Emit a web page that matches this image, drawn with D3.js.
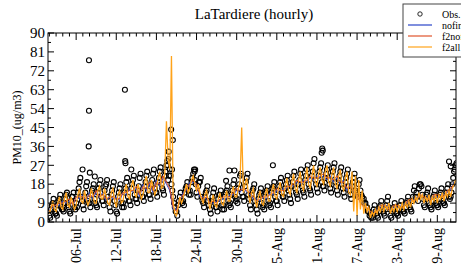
<!DOCTYPE html>
<html>
<head>
<meta charset="utf-8">
<script src="https://cdn.jsdelivr.net/npm/d3@7"></script>
<style>
  body { margin: 0; background: #fff; }
  svg { display: block; font-family: "Liberation Serif", "Times New Roman", serif; }
</style>
</head>
<body>
<svg id="chart" width="461" height="264"></svg>
<script>
// hourly station LaTardiere; obs kept every 3 h, split in two arrays
// obsPM10: 00, 06, 12, 18 UTC from 02-Jul ; obsPM10Late: 03, 09, 15, 21 UTC
let seriesStart = "2019-07-02T00:00Z";
let obsPM10 = [
  3,6,9,5, 4,8,11,7, 6,9,13,8, 5,10,12,7, 9,14,19,12,
  8,12,17,10, 9,13,16,11, 8,14,18,12, 10,15,18,12, 7,13,17,10,
  5,12,16,9, 9,14,19,12, 10,16,20,13, 11,15,21,14, 12,17,22,15,
  13,18,23,16, 14,19,24,18, 15,22,27,20, 25,18,12,7, 5,8,12,10,
  10,14,17,15, 15,19,23,20, 14,17,19,12, 9,12,15,10, 6,10,14,9,
  7,11,13,8, 8,12,15,10, 9,13,18,12, 11,16,22,14, 12,17,21,13,
  8,13,16,10, 6,11,14,9, 8,12,15,10, 9,14,17,12, 10,15,19,14,
  12,16,20,15, 11,17,22,16, 13,18,23,17, 14,20,25,18, 15,22,28,20,
  16,22,26,19, 17,21,25,20, 16,22,26,19, 15,20,24,18, 14,19,23,17,
  13,17,21,15, 14,18,15,12, 11,9,7,5, 4,3,6,5, 3,5,8,6,
  4,6,10,7, 3,5,7,5, 4,6,8,6, 5,7,10,8, 6,10,15,12,
  12,16,18,13, 8,11,14,9, 7,10,13,9, 8,11,14,10, 9,12,16,12,
  12,18,24,27
];
let obsPM10Late = [
  2,8,11,4, 3,10,13,6, 5,11,14,7, 4,12,14,6, 7,16,21,10,
  6,14,19,9, 7,15,18,9, 7,16,20,10, 8,17,20,10, 5,15,19,8,
  4,14,18,7, 7,16,21,10, 8,18,22,11, 9,17,23,12, 10,19,24,13,
  11,20,25,14, 12,21,26,16, 13,24,29,22, 22,15,9,5, 3,10,14,9,
  8,16,19,13, 13,21,25,18, 12,19,21,10, 7,14,17,8, 4,12,16,7,
  5,13,15,6, 6,14,17,8, 7,15,20,10, 9,18,23,12, 10,19,23,11,
  6,15,18,8, 4,13,16,7, 6,14,17,8, 7,16,19,10, 8,17,21,12,
  10,18,22,13, 9,19,24,14, 11,20,25,15, 12,22,27,16, 13,24,30,18,
  14,24,28,17, 15,23,27,18, 14,24,28,17, 13,22,26,16, 12,21,25,15,
  11,19,23,13, 12,20,13,10, 9,7,5,3, 2,2,8,4, 2,7,10,5,
  3,8,12,6, 2,6,9,4, 3,8,10,5, 4,9,12,7, 5,12,17,14,
  10,18,17,11, 7,13,16,8, 6,12,15,8, 7,13,16,9, 8,14,18,11,
  14,21,25,28
];
// single hours standing out from the band
let obsPeaks = [
  ["2019-07-07T22:00Z", 77], ["2019-07-07T22:00Z", 53], ["2019-07-07T21:00Z", 36],
  ["2019-07-06T23:00Z", 25], ["2019-07-08T01:00Z", 23.5], ["2019-07-08T19:00Z", 21.7],
  ["2019-07-13T07:00Z", 63], ["2019-07-13T08:00Z", 29], ["2019-07-13T09:00Z", 28], ["2019-07-14T06:00Z", 25],
  ["2019-07-20T05:00Z", 44], ["2019-07-20T11:00Z", 39], ["2019-07-19T20:00Z", 33.5],
  ["2019-07-19T19:00Z", 30], ["2019-07-19T17:00Z", 27], ["2019-07-20T08:00Z", 25],
  ["2019-07-23T17:00Z", 24], ["2019-07-23T19:00Z", 25],
  ["2019-07-28T22:00Z", 24.5], ["2019-07-29T16:00Z", 24.5], ["2019-07-28T10:00Z", 19.6],
  ["2019-08-04T10:00Z", 27],
  ["2019-08-11T17:00Z", 33], ["2019-08-11T19:00Z", 35], ["2019-08-11T21:00Z", 34],
  ["2019-08-30T18:00Z", 28.8], ["2019-08-31T00:00Z", 26.5]
];
// f2all run, every 6 h (00, 06, 12, 18 UTC)
let f2allPM10 = [
  4,7,10,6, 5,9,12,7, 6,11,14,8, 7,12,9,6, 8,13,16,10,
  9,15,11,8, 10,16,13,9, 9,15,17,11, 11,16,12,9, 8,14,16,10,
  7,13,15,9, 10,15,18,12, 11,17,20,13, 12,18,15,11, 13,19,22,14,
  14,20,17,13, 15,21,24,16, 17,23,48,30, 25,79,10,4, 3,7,12,9,
  11,15,18,14, 16,20,22,18, 15,18,14,11, 9,13,15,10, 6,10,13,8,
  7,11,14,9, 8,12,15,10, 10,14,17,12, 12,16,19,45, 14,18,21,13,
  9,14,16,10, 7,12,15,9, 8,13,16,10, 10,15,18,12, 11,16,19,13,
  12,17,21,15, 13,19,23,16, 14,20,24,17, 15,21,26,18, 16,22,27,19,
  17,23,26,20, 18,24,27,19, 17,23,26,18, 16,22,25,17, 15,21,24,14,
  13,24,5,22, 3,20,6,15, 4,9,5,7, 2,5,3,6, 4,7,5,8,
  5,8,6,9, 4,7,5,8, 5,8,6,9, 6,9,7,10, 7,11,9,12,
  10,14,11,13, 9,12,10,13, 8,12,10,13, 9,13,11,14, 10,14,12,15,
  12,16,18,20
];
// the two no-fire runs, every 12 h (00, 12 UTC)
let nofirePM10 = [
  6,7, 8,8, 10,9, 10,8, 12,11, 13,10, 14,11, 14,12, 14,10, 12,11,
  12,10, 14,13, 16,14, 16,12, 18,15, 18,14, 20,17, 21,18, 15,6, 6,10,
  14,15, 19,19, 17,12, 12,11, 9,9, 10,10, 11,11, 13,13, 15,14, 17,14,
  13,11, 11,10, 12,11, 14,13, 15,14, 16,16, 18,17, 19,18, 20,19, 21,20,
  22,21, 22,20, 22,19, 21,18, 20,15, 18,14, 12,10, 8,6, 4,5, 6,7,
  7,8, 6,7, 7,8, 8,9, 10,11, 12,12, 11,12, 11,12, 12,13, 13,14,
  15,19
];
let f2nofirePM10 = [
  5,8, 8,9, 9,10, 11,8, 12,12, 12,11, 13,12, 15,12, 13,11, 12,12,
  11,11, 14,14, 15,15, 17,13, 17,16, 19,15, 19,18, 22,19, 16,7, 5,11,
  13,16, 18,20, 18,13, 11,12, 9,10, 9,11, 12,12, 12,14, 16,15, 16,15,
  14,12, 10,11, 12,12, 13,14, 16,15, 15,17, 17,18, 20,19, 19,20, 22,21,
  21,22, 23,21, 21,20, 22,19, 19,16, 17,15, 13,9, 7,7, 5,4, 5,8,
  8,7, 5,8, 8,7, 7,10, 11,10, 11,13, 12,11, 10,13, 13,12, 12,15,
  16,18
];
let majorDates = ["2019-07-06", "2019-07-12", "2019-07-18", "2019-07-24", "2019-07-30",
  "2019-08-05", "2019-08-11", "2019-08-17", "2019-08-23", "2019-08-29"];
let yTicks = [0, 9, 18, 27, 36, 45, 54, 63, 72, 81, 90];
let legendNames = ["Obs.", "nofire", "f2nofire", "f2all"];
let lineColors = { nofire: "#2b45c8", f2nofire: "#e0522a", f2all: "#ffa31a" };

let svg = d3.select("#chart");
let pLeft = 48, pRight = 456, pTop = 33, pBottom = 222;

let x = d3.scaleUtc()
  .domain([new Date("2019-07-01T19:00Z"), new Date("2019-08-31T19:00Z")])
  .range([pLeft, pRight]);
let y = d3.scaleLinear().domain([0, 90]).range([pBottom, pTop]);

let t0 = new Date(seriesStart).getTime();
function toPoints(arr, stepH, offsetH = 0) {
  return arr.map((v, i) => ({ t: new Date(t0 + (offsetH + i * stepH) * 3600e3), v: v }));
}

svg.append("defs").append("clipPath").attr("id", "plotclip")
  .append("rect").attr("x", pLeft).attr("y", pTop)
  .attr("width", pRight - pLeft).attr("height", pBottom - pTop);

let plot = svg.append("g").attr("clip-path", "url(#plotclip)");

// observations as open circles
let obsPts = toPoints(obsPM10, 6)
  .concat(toPoints(obsPM10Late, 6, 3))
  .concat(obsPeaks.map(d => ({ t: new Date(d[0]), v: d[1] })));
plot.append("g").selectAll("circle")
  .data(obsPts)
  .enter().append("circle")
  .attr("cx", d => x(d.t))
  .attr("cy", d => y(d.v))
  .attr("r", 2.5)
  .attr("fill", "none")
  .attr("stroke", "#000")
  .attr("stroke-width", 1.1);

let line = d3.line().x(d => x(d.t)).y(d => y(d.v));
[["nofire", nofirePM10, 12], ["f2nofire", f2nofirePM10, 12], ["f2all", f2allPM10, 6]]
  .forEach(([name, arr, step]) => {
    plot.append("path")
      .datum(toPoints(arr, step))
      .attr("d", line)
      .attr("fill", "none")
      .attr("stroke", lineColors[name])
      .attr("stroke-width", name == "f2all" ? 1.3 : 1);
  });

// frame
svg.append("rect").attr("x", pLeft).attr("y", pTop)
  .attr("width", pRight - pLeft).attr("height", pBottom - pTop)
  .attr("fill", "none").attr("stroke", "#000").attr("stroke-width", 1);

// x ticks: daily minor, 6-daily major, on bottom and top
let majors = majorDates.map(s => new Date(s + "T00:00Z"));
let minors = d3.utcDay.range(new Date("2019-07-02T00:00Z"), new Date("2019-09-01T00:00Z"));
let tickG = svg.append("g").attr("stroke", "#000").attr("stroke-width", 1);
minors.forEach(d => {
  let big = majors.some(m => +m == +d);
  let len = big ? 7 : 3.5;
  tickG.append("line").attr("x1", x(d)).attr("x2", x(d)).attr("y1", pBottom).attr("y2", pBottom - len);
  tickG.append("line").attr("x1", x(d)).attr("x2", x(d)).attr("y1", pTop).attr("y2", pTop + len);
});

// y ticks, left and right
d3.range(0, 90.1, 4.5).forEach(v => {
  let big = v % 9 == 0;
  let len = big ? 6 : 3;
  tickG.append("line").attr("x1", pLeft).attr("x2", pLeft + len).attr("y1", y(v)).attr("y2", y(v));
  tickG.append("line").attr("x1", pRight).attr("x2", pRight - len).attr("y1", y(v)).attr("y2", y(v));
});

svg.append("g").selectAll("text")
  .data(yTicks)
  .enter().append("text")
  .attr("x", pLeft - 3)
  .attr("y", d => y(d))
  .attr("dy", "0.35em")
  .attr("text-anchor", "end")
  .attr("font-size", 15)
  .text(d => d);

// rotated date labels run off the bottom edge as in the original figure
let fmt = d3.utcFormat("%d-%b");
svg.append("g").selectAll("text")
  .data(majors)
  .enter().append("text")
  .attr("transform", d => `translate(${x(d)},${pBottom + 6}) rotate(-90)`)
  .attr("dy", "0.35em")
  .attr("text-anchor", "end")
  .attr("font-size", 14)
  .text(d => fmt(d));

svg.append("text")
  .attr("transform", `translate(17,${(pTop + pBottom) / 2}) rotate(-90)`)
  .attr("dy", "0.35em")
  .attr("text-anchor", "middle")
  .attr("font-size", 12)
  .text("PM10_(ug/m3)");

svg.append("text")
  .attr("x", 254).attr("y", 19)
  .attr("text-anchor", "middle")
  .attr("font-size", 15)
  .text("LaTardiere (hourly)");

// legend
let lg = svg.append("g");
lg.append("rect").attr("x", 403).attr("y", 4).attr("width", 70).attr("height", 53)
  .attr("fill", "#fff").attr("stroke", "#444").attr("stroke-width", 1);
legendNames.forEach((name, i) => {
  let ly = 14 + i * 11;
  if (i == 0) {
    lg.append("circle").attr("cx", 420).attr("cy", ly).attr("r", 2.2)
      .attr("fill", "none").attr("stroke", "#111").attr("stroke-width", 0.9);
  } else {
    lg.append("line").attr("x1", 408).attr("x2", 432).attr("y1", ly).attr("y2", ly)
      .attr("stroke", lineColors[name]).attr("stroke-width", 1.2);
  }
  lg.append("text").attr("x", 442).attr("y", ly).attr("dy", "0.35em")
    .attr("font-size", 10).text(name);
});
</script>
</body>
</html>
